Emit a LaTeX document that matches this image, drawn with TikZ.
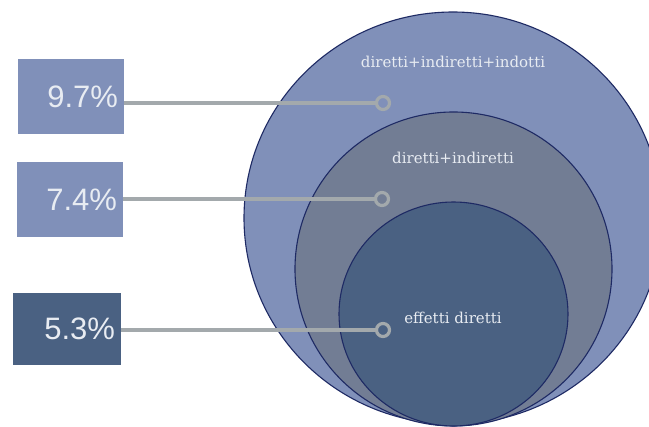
\documentclass[tikz,border=0pt]{standalone}
\usepackage{fontspec}
\setmainfont{DejaVu Serif}
\newfontfamily\pctfont{Liberation Sans}
\usetikzlibrary{positioning}
\definecolor{lightblue}{RGB}{128,144,185}
\definecolor{midgray}{RGB}{114,125,148}
\definecolor{darkblue}{RGB}{74,97,130}
\definecolor{rim}{RGB}{30,42,100}
\definecolor{leader}{RGB}{163,169,172}
\definecolor{paletext}{RGB}{232,236,242}
\tikzset{pct/.style = {text=paletext, font=\pctfont\fontsize{31}{36}\selectfont,
                       minimum height=75, align=right, inner xsep=6, inner ysep=0}}
\tikzset{ring/.style = {draw=rim, line width=1.1}}
\tikzset{pin/.style = {circle, draw=leader, line width=3.2, minimum size=13, inner sep=0}}
\tikzset{lead/.style = {draw=leader, line width=3.2}}
\tikzset{tag/.style = {text=paletext, font=\fontsize{15}{17}\selectfont}}

\begin{document}
\begin{tikzpicture}[x=1pt, y=1pt]
    \useasboundingbox (0, 0) rectangle (649, -427);
    \clip (0, 0) rectangle (649, -427);
    \fill [white] (0, 0) rectangle (649, -427);

    % nested circles
    \filldraw [ring, fill=lightblue] (453, -218) ellipse [x radius=209, y radius=206];
    \filldraw [ring, fill=midgray] (453.5, -269) ellipse [x radius=158.5, y radius=157];
    \filldraw [ring, fill=darkblue] (453.5, -314) ellipse [x radius=114.5, y radius=112];

    \node [tag] (tagall) at (453, -62) {diretti+indiretti+indotti};
    \node [tag] (tagind) at (453, -158) {diretti+indiretti};
    \node [tag] (tagdir) at (453, -318) {effetti diretti};

    % boxes
    \node [pct, fill=lightblue, text width=94] (box97) at (71, -96.5) {9.7\%};
    \node [pct, fill=lightblue, text width=94] (box74) at (70, -199.5) {7.4\%};
    \node [pct, fill=darkblue, text width=96, minimum height=72] (box53) at (67, -329) {5.3\%};

    \node [pin] (pin97) at (383, -103) {};
    \node [pin] (pin74) at (382, -199) {};
    \node [pin] (pin53) at (383, -330) {};

    \draw [lead] (box97.east |- pin97) -- (pin97);
    \draw [lead] (box74.east |- pin74) -- (pin74);
    \draw [lead] (box53.east |- pin53) -- (pin53);
  \end{tikzpicture}
\end{document}
